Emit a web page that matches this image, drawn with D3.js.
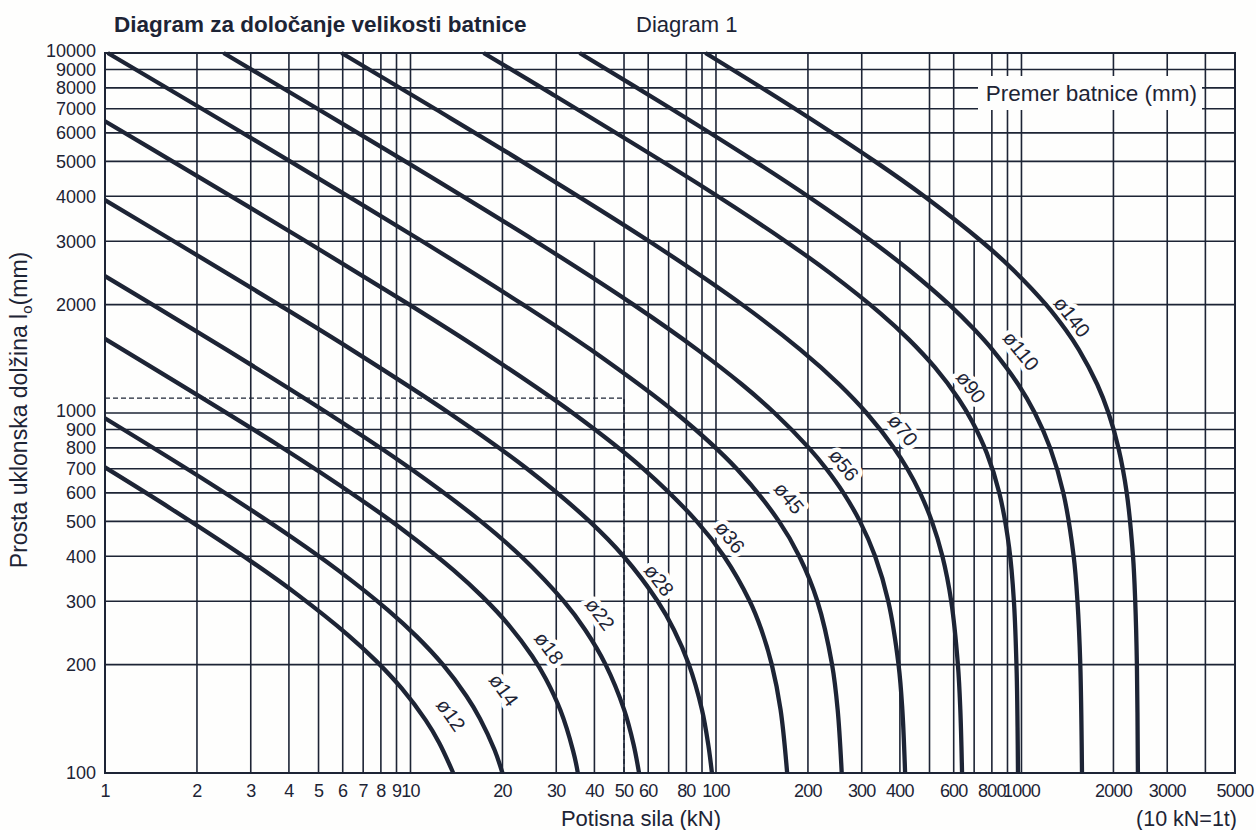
<!DOCTYPE html>
<html lang="sl">
<head>
<meta charset="utf-8">
<title>Diagram 1</title>
<script src="https://cdn.jsdelivr.net/npm/d3@7/dist/d3.min.js"></script>
<style>
    body { margin: 0; background: #fff; }
    svg { font-family: "Liberation Sans", Arial, sans-serif; }
</style>
</head>
<body>
<svg id="chart" width="1256" height="830"></svg>
<script>
// axis values
const xTickLabels = [1, 2, 3, 4, 5, 6, 7, 8, 9, 10, 20, 30, 40, 50, 60, 80, 100, 200, 300, 400, 600, 800, 1000, 2000, 3000, 5000];
const yTickLabels = [100, 200, 300, 400, 500, 600, 700, 800, 900, 1000, 2000, 3000, 4000, 5000, 6000, 7000, 8000, 9000, 10000];
// vertical rulings over the full height, and the ones that only start at 3000 mm
const xGrid = [1, 2, 3, 4, 5, 6, 7, 8, 9, 10, 20, 30, 50, 60, 80, 90, 100,
    200, 300, 500, 600, 800, 900, 1000, 2000, 3000, 4000, 5000];
const xGridLower = [40, 70, 400, 700];
const yGrid = yTickLabels;

// rod diameters (mm)
const diameters = [12, 14, 18, 22, 28, 36, 45, 56, 70, 90, 110, 140];

// curve points: [force kN, length mm]
const rod12 = [[1, 706], [1.64, 543], [3.048, 384], [4.256, 313.5], [6.206, 242.8], [7.698, 205.2], [9.362, 171.7], [11.21, 140.2], [12.41, 121.4], [13.8, 100]];
const rod14 = [[1, 967], [2.23, 634], [4.144, 448.3], [5.786, 366.1], [8.437, 283.5], [10.47, 239.6], [12.73, 200.5], [15.24, 163.7], [16.87, 141.8], [18.85, 115.8], [20, 100]];
const rod18 = [[1, 1607], [3.663, 817.5], [6.807, 578], [9.505, 471.9], [13.86, 365.6], [17.19, 309], [20.91, 258.5], [25.04, 211.1], [27.72, 182.8], [30.96, 149.3], [34.03, 115.6], [35.3, 100]];
const rod22 = [[1, 2400], [1.43, 2000], [2.498, 1500], [5.35, 1000], [10.02, 700], [17.0, 500], [23.0, 400], [31.73, 300], [37.29, 250], [43.52, 200], [50.03, 150], [53.74, 120], [56, 100]];
const rod28 = [[1, 3901], [1.68, 3000], [3.704, 2000], [6.407, 1500], [13.38, 1000], [24.07, 700], [38.57, 500], [49.83, 400], [64.43, 300], [72.83, 250], [81.57, 200], [89.93, 150], [94.34, 120], [97, 100]];
const rod36 = [[1, 6462], [1.664, 5000], [4.546, 3000], [9.914, 2000], [16.89, 1500], [33.98, 1000], [57.87, 700], [86.5, 500], [106.2, 400], [129, 300], [140.8, 250], [152.3, 200], [162.7, 150], [171, 100]];
const rod45 = [[1.021, 10000], [2.076, 7000], [4.038, 5000], [10.92, 3000], [23.36, 2000], [38.87, 1500], [73.89, 1000], [116.9, 700], [160.8, 500], [187.3, 400], [214.8, 300], [239.9, 200], [250.2, 150], [258, 100]];
const rod56 = [[2.444, 10000], [4.959, 7000], [9.611, 5000], [25.66, 3000], [53.67, 2000], [86.85, 1500], [121.7, 1200], [155.5, 1000], [201.4, 800], [229.6, 700], [261.3, 600], [295.9, 500], [331.8, 400], [366.4, 300], [395.9, 200], [407.4, 150], [416, 100]];
const rod70 = [[5.947, 10000], [12.02, 7000], [23.15, 5000], [60.45, 3000], [121.8, 2000], [188.8, 1500], [253.4, 1200], [311.1, 1000], [382.6, 800], [423, 700], [465.6, 600], [509, 500], [551.1, 400], [588.9, 300], [619.3, 200], [630.7, 150], [639, 100]];
const rod90 = [[17.35, 10000], [28.75, 7736], [91.1, 4237.5], [169.3, 2996.4], [236.4, 2446.4], [344.7, 1895], [427.6, 1601.6], [520, 1340], [622.8, 1094.1], [689.5, 947.5], [770, 773.7], [846.4, 599.2], [911, 423.7], [944.7, 299.6], [964.6, 189.5], [970.9, 134], [974, 100]];
const rod110 = [[35.78, 10000], [71.34, 7000], [134, 5000], [199.9, 4000], [323.6, 3000], [427.6, 2500], [580.1, 2000], [703.9, 1700], [802.8, 1500], [976.2, 1200], [1106, 1000], [1240.9, 800], [1371, 600], [1482, 400], [1525, 300], [1558, 200], [1578, 100]];
const rod140 = [[92.36, 10000], [181.3, 7000], [331.3, 5000], [480.5, 4000], [739.6, 3000], [938.4, 2500], [1203, 2000], [1397, 1700], [1541, 1500], [1771, 1200], [1927, 1000], [2077, 800], [2211, 600], [2318, 400], [2357, 300], [2387, 200], [2405, 100]];
const curves = [rod12, rod14, rod18, rod22, rod28, rod36, rod45, rod56, rod70, rod90, rod110, rod140];

// centre of each "ø" label: [force kN, length mm]
const labelAt = [[13.57, 144.9], [20.2, 170.1], [28.41, 222.4], [41.72, 276.4], [65.1, 343.6], [111.1, 452.4],
    [173.4, 580.7], [262.4, 717.2], [409.4, 897.1], [683.5, 1181], [996.4, 1487], [1463, 1850]];

// worked example: 50 kN at 1100 mm
const example = {force: 50, length: 1100};

const ink = "#1d2435";
const paper = "#fefefd";
const svg = d3.select("#chart");

const x = d3.scaleLog().domain([1, 5000]).range([105, 1235]);
const y = d3.scaleLog().domain([100, 10000]).range([773, 53]);

svg.append("rect").attr("width", 1256).attr("height", 830).attr("fill", paper);

// grid
const grid = svg.append("g").attr("stroke", ink).attr("stroke-width", 1.6);
grid.selectAll("line.v").data(xGrid).join("line")
    .attr("class", "v")
    .attr("x1", d => x(d)).attr("x2", d => x(d))
    .attr("y1", y(10000)).attr("y2", y(100));
grid.selectAll("line.vl").data(xGridLower).join("line")
    .attr("class", "vl")
    .attr("x1", d => x(d)).attr("x2", d => x(d))
    .attr("y1", y(3000)).attr("y2", y(100));
grid.selectAll("line.h").data(yGrid).join("line")
    .attr("class", "h")
    .attr("x1", x(1)).attr("x2", x(5000))
    .attr("y1", d => y(d)).attr("y2", d => y(d));

// dashed example
svg.append("path")
    .attr("d", `M${x(1)},${y(example.length)}H${x(example.force)}V${y(100)}`)
    .attr("fill", "none").attr("stroke", ink).attr("stroke-width", 1.4)
    .attr("stroke-dasharray", "5,3");

// box behind legend title
svg.append("rect").attr("x", 978).attr("y", 76).attr("width", 224).attr("height", 34).attr("fill", paper);
svg.append("text").attr("x", 1197).attr("y", 101).attr("text-anchor", "end")
    .attr("font-size", 22.5).attr("fill", ink).text("Premer batnice (mm)");

// force on a curve at a given length, interpolated in log space
function forceAt(pts, L) {
    for (let i = 0; i < pts.length - 1; i++) {
        const [f0, l0] = pts[i], [f1, l1] = pts[i + 1];
        if (l0 >= L && l1 <= L) {
            const t = Math.log(l0 / L) / Math.log(l0 / l1);
            return Math.exp(Math.log(f0) + t * Math.log(f1 / f0));
        }
    }
    return pts[pts.length - 1][0];
}

// labels follow the slope of their own curve
const labels = labelAt.map(([F, L], i) => {
    const pts = curves[i];
    const ax = x(forceAt(pts, L * 1.08)), ay = y(L * 1.08);
    const bx = x(forceAt(pts, L / 1.08)), by = y(L / 1.08);
    return {
        text: "ø" + diameters[i],
        cx: x(F), cy: y(L),
        deg: Math.atan2(by - ay, bx - ax) * 180 / Math.PI
    };
});

svg.append("g").selectAll("text").data(labels).join("text")
    .attr("transform", d => `translate(${d.cx},${d.cy}) rotate(${d.deg})`)
    .attr("text-anchor", "middle").attr("dy", "0.35em")
    .attr("font-size", 20).attr("fill", ink)
    .attr("stroke", paper).attr("stroke-width", 9).attr("paint-order", "stroke")
    .attr("stroke-linejoin", "round")
    .text(d => d.text);

// curves
const line = d3.line().x(d => x(d[0])).y(d => y(d[1])).curve(d3.curveCatmullRom.alpha(0.5));
svg.append("g").selectAll("path").data(curves).join("path")
    .attr("d", line)
    .attr("fill", "none").attr("stroke", ink).attr("stroke-width", 4.3);

// frame
svg.append("rect").attr("x", x(1)).attr("y", y(10000))
    .attr("width", x(5000) - x(1)).attr("height", y(100) - y(10000))
    .attr("fill", "none").attr("stroke", ink).attr("stroke-width", 2);

// tick labels
svg.append("g").selectAll("text").data(xTickLabels).join("text")
    .attr("x", d => x(d)).attr("y", 797)
    .attr("text-anchor", "middle").attr("font-size", 18).attr("letter-spacing", -0.8)
    .attr("fill", ink).text(d => d);
svg.append("g").selectAll("text").data(yTickLabels).join("text")
    .attr("x", 96).attr("y", d => y(d) - (d === 1000 || d === 10000 ? 2 : 0)).attr("dy", "0.35em")
    .attr("text-anchor", "end").attr("font-size", 18).attr("fill", ink)
    .text(d => d);

// titles
svg.append("text").attr("x", 114).attr("y", 32).attr("font-size", 22.5).attr("font-weight", "bold")
    .attr("fill", ink).text("Diagram za določanje velikosti batnice");
svg.append("text").attr("x", 636).attr("y", 32).attr("font-size", 22)
    .attr("fill", ink).text("Diagram 1");
svg.append("text").attr("x", 641).attr("y", 826).attr("text-anchor", "middle").attr("font-size", 22)
    .attr("fill", ink).text("Potisna sila (kN)");
svg.append("text").attr("x", 1237).attr("y", 826).attr("text-anchor", "end").attr("font-size", 21.5)
    .attr("fill", ink).text("(10 kN=1t)");

const yTitle = svg.append("text")
    .attr("transform", "translate(27,410) rotate(-90)")
    .attr("text-anchor", "middle").attr("font-size", 23).attr("fill", ink);
yTitle.append("tspan").text("Prosta uklonska dolžina l");
yTitle.append("tspan").attr("font-size", 15).attr("dy", 5).text("o");
yTitle.append("tspan").attr("dy", -5).text("(mm)");
</script>
</body>
</html>
